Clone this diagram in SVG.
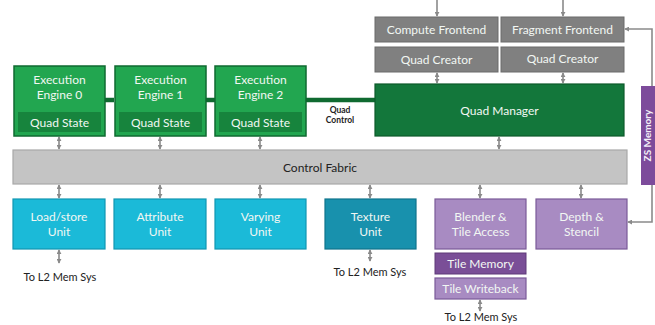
<svg xmlns="http://www.w3.org/2000/svg" width="655" height="325" viewBox="0 0 655 325">
<defs>
<marker id="ah" viewBox="0 0 6 6" refX="5" refY="3" markerWidth="5" markerHeight="5" orient="auto-start-reverse" markerUnits="userSpaceOnUse">
<path d="M0,0 L6,3 L0,6 z" fill="#8a8a8a"/>
</marker>
</defs>
<style>
text{font-family:"Lato","Liberation Sans",sans-serif;text-anchor:middle;}
.t{fill:#f2f7f3;font-size:12px;}
.ee{fill:#22a650;stroke:#0f6a30;stroke-width:1.5;}
.qs{fill:#17843d;}
.gr{fill:#808080;stroke:#6a6a6a;stroke-width:1;}
.cy{fill:#1bbad8;stroke:#1297b2;stroke-width:1.2;}
.pu{fill:#a88bc2;stroke:#7b5b98;stroke-width:1.2;}
.dk{font-size:11px;fill:#222;}
.c{stroke:#8a8a8a;stroke-width:1.6;fill:none;}
</style>
<rect width="655" height="325" fill="#ffffff"/>
<g id="connectors">
<g stroke="#0f6a30" stroke-width="4.5">
<line x1="105" y1="100" x2="114" y2="100"/>
<line x1="206" y1="100" x2="215" y2="100"/>
<line x1="306" y1="100" x2="375" y2="100"/>
</g>
<line class="c" x1="437" y1="0" x2="437" y2="16" marker-end="url(#ah)"/>
<line class="c" x1="563" y1="0" x2="563" y2="16" marker-end="url(#ah)"/>
<line class="c" x1="437" y1="73" x2="437" y2="83" marker-start="url(#ah)" marker-end="url(#ah)"/>
<line class="c" x1="563" y1="73" x2="563" y2="83" marker-start="url(#ah)" marker-end="url(#ah)"/>
<line class="c" x1="499" y1="137" x2="499" y2="149" marker-start="url(#ah)" marker-end="url(#ah)"/>
<line class="c" x1="59" y1="137" x2="59" y2="149" marker-start="url(#ah)" marker-end="url(#ah)"/>
<line class="c" x1="160" y1="137" x2="160" y2="149" marker-start="url(#ah)" marker-end="url(#ah)"/>
<line class="c" x1="260" y1="137" x2="260" y2="149" marker-start="url(#ah)" marker-end="url(#ah)"/>
<line class="c" x1="59" y1="185" x2="59" y2="198" marker-start="url(#ah)" marker-end="url(#ah)"/>
<line class="c" x1="160" y1="185" x2="160" y2="198" marker-start="url(#ah)" marker-end="url(#ah)"/>
<line class="c" x1="260" y1="185" x2="260" y2="198" marker-start="url(#ah)" marker-end="url(#ah)"/>
<line class="c" x1="370" y1="185" x2="370" y2="198" marker-start="url(#ah)" marker-end="url(#ah)"/>
<line class="c" x1="480" y1="185" x2="480" y2="198" marker-start="url(#ah)" marker-end="url(#ah)"/>
<line class="c" x1="581" y1="185" x2="581" y2="198" marker-start="url(#ah)" marker-end="url(#ah)"/>
<line class="c" x1="59" y1="250" x2="59" y2="263" marker-start="url(#ah)" marker-end="url(#ah)"/>
<line class="c" x1="370" y1="250" x2="370" y2="261" marker-start="url(#ah)" marker-end="url(#ah)"/>
<line class="c" x1="480" y1="300" x2="480" y2="311" marker-start="url(#ah)" marker-end="url(#ah)"/>
<polyline class="c" points="652,86 652,29 625,29" marker-end="url(#ah)"/>
<polyline class="c" points="652,185 652,222 628,222" marker-end="url(#ah)"/>
<text class="dk" x="340" y="113" style="font-size:8.5px;font-weight:bold">Quad</text>
<text class="dk" x="340" y="123" style="font-size:8.5px;font-weight:bold">Control</text>
</g>
<g id="ee0">
<rect class="ee" x="14" y="66" width="91" height="70"/>
<rect class="qs" x="18" y="112" width="83" height="20"/>
<text class="t" x="59.5" y="84">Execution</text>
<text class="t" x="59.5" y="99">Engine 0</text>
<text class="t" x="59.5" y="127">Quad State</text>
</g>
<g id="ee1">
<rect class="ee" x="115" y="66" width="91" height="70"/>
<rect class="qs" x="119" y="112" width="83" height="20"/>
<text class="t" x="160.5" y="84">Execution</text>
<text class="t" x="160.5" y="99">Engine 1</text>
<text class="t" x="160.5" y="127">Quad State</text>
</g>
<g id="ee2">
<rect class="ee" x="215" y="66" width="91" height="70"/>
<rect class="qs" x="219" y="112" width="83" height="20"/>
<text class="t" x="260.5" y="84">Execution</text>
<text class="t" x="260.5" y="99">Engine 2</text>
<text class="t" x="260.5" y="127">Quad State</text>
</g>
<g id="compute-frontend">
<rect class="gr" x="375" y="17" width="123" height="25"/>
<text class="t" x="436.5" y="34">Compute Frontend</text>
</g>
<g id="fragment-frontend">
<rect class="gr" x="501" y="17" width="123" height="25"/>
<text class="t" x="562.5" y="34">Fragment Frontend</text>
</g>
<g id="quad-creator-0">
<rect class="gr" x="375" y="47" width="123" height="25"/>
<text class="t" x="436.5" y="64">Quad Creator</text>
</g>
<g id="quad-creator-1">
<rect class="gr" x="501" y="47" width="123" height="25"/>
<text class="t" x="562.5" y="63">Quad Creator</text>
</g>
<g id="quad-manager">
<rect x="375" y="84" width="249" height="52" fill="#13773b" stroke="#0c5a2a" stroke-width="1.2"/>
<text class="t" x="499.5" y="115">Quad Manager</text>
</g>
<g id="zs-memory">
<rect x="641" y="86" width="14" height="99" fill="#7d4b9b"/>
<text x="651" y="135.5" transform="rotate(-90 651 135.5)" style="font-size:10px;font-weight:bold;fill:#f3eef7">ZS Memory</text>
</g>
<g id="control-fabric">
<rect x="13" y="150" width="614" height="34" fill="#c4c4c4" stroke="#a8a8a8" stroke-width="1.2"/>
<text x="320" y="172" style="font-size:12px;fill:#222">Control Fabric</text>
</g>
<g id="load-store">
<rect class="cy" x="13" y="199" width="92" height="50"/>
<text class="t" x="59" y="221">Load/store</text>
<text class="t" x="59" y="236">Unit</text>
</g>
<g id="attribute">
<rect class="cy" x="114" y="199" width="92" height="50"/>
<text class="t" x="160" y="221">Attribute</text>
<text class="t" x="160" y="236">Unit</text>
</g>
<g id="varying">
<rect class="cy" x="215" y="199" width="91" height="50"/>
<text class="t" x="260.5" y="221">Varying</text>
<text class="t" x="260.5" y="236">Unit</text>
</g>
<g id="texture">
<rect x="325" y="199" width="91" height="50" fill="#1891ad" stroke="#10748c" stroke-width="1.2"/>
<text class="t" x="370.5" y="221">Texture</text>
<text class="t" x="370.5" y="236">Unit</text>
</g>
<g id="blender">
<rect class="pu" x="435" y="199" width="91" height="50"/>
<text class="t" x="480.5" y="221">Blender &amp;</text>
<text class="t" x="480.5" y="236">Tile Access</text>
</g>
<g id="depth-stencil">
<rect class="pu" x="536" y="199" width="91" height="50"/>
<text class="t" x="581.5" y="221">Depth &amp;</text>
<text class="t" x="581.5" y="236">Stencil</text>
</g>
<g id="tile-memory">
<rect x="435" y="253" width="91" height="21" fill="#7a4f97" stroke="#5e3a78" stroke-width="1"/>
<text class="t" x="480.5" y="268">Tile Memory</text>
</g>
<g id="tile-writeback">
<rect class="pu" x="435" y="278" width="91" height="21"/>
<text class="t" x="480.5" y="293">Tile Writeback</text>
</g>
<g id="labels">
<text class="dk" x="60" y="281">To L2 Mem Sys</text>
<text class="dk" x="370" y="276">To L2 Mem Sys</text>
<text class="dk" x="481" y="321">To L2 Mem Sys</text>
</g>
</svg>
